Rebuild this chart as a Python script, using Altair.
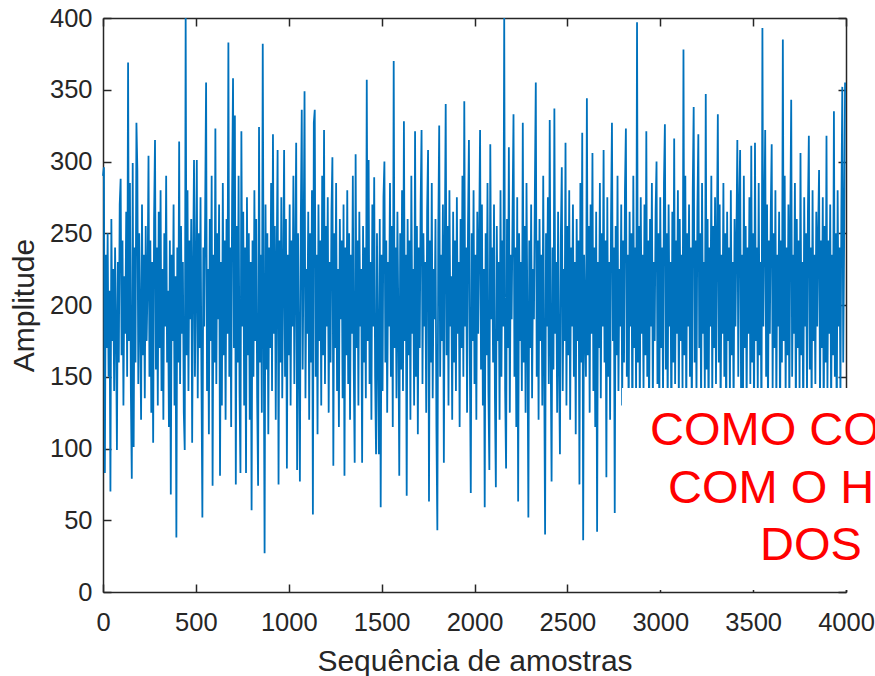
import altair as alt
import pandas as pd

# ---------------- data (one value every 5 samples) ----------------
sample_step = 5
x_ticks = [0, 500, 1000, 1500, 2000, 2500, 3000, 3500, 4000]
y_ticks = [0, 50, 100, 150, 200, 250, 300, 350, 400]

amp_0000_0995 = [
    290, 296, 83, 235, 170, 250, 150, 210, 70, 260, 175, 225, 140, 240, 185, 99, 230, 160, 270, 288,
    165, 245, 130, 220, 180, 265, 150, 369, 175, 285, 140, 79, 299, 101, 240, 160, 327, 294, 145, 250,
    190, 120, 270, 165, 235, 135, 255, 175, 215, 304, 150, 245, 125, 230, 104, 260, 315, 155, 240, 130,
    265, 170, 280, 140, 225, 120, 250, 185, 290, 160, 210, 115, 245, 68, 235, 175, 270, 130, 220, 38,
    240, 160, 314, 145, 255, 180, 230, 125, 99, 400, 165, 280, 140, 245, 190, 260, 104, 225, 301, 150,
    215, 301, 135, 250, 170, 275, 150, 52, 240, 185, 265, 355, 140, 225, 110, 260, 175, 290, 74, 235,
    160, 323, 145, 250, 190, 270, 81, 230, 130, 285, 165, 245, 120, 260, 180, 383, 150, 240, 115, 275,
    358, 170, 332, 75, 255, 160, 290, 140, 83, 321, 185, 265, 130, 240, 83, 275, 165, 250, 120, 230,
    57, 245, 150, 280, 175, 260, 135, 74, 324, 160, 235, 125, 382, 190, 27, 270, 155, 250, 110, 240,
    170, 285, 140, 319, 180, 255, 120, 230, 308, 75, 245, 160, 275, 135, 220, 308, 150, 260, 86, 235,
]
amp_1000_1995 = [
    165, 270, 130, 245, 185, 290, 145, 230, 313, 85, 250, 170, 77, 260, 336, 155, 240, 349, 135, 225,
    180, 265, 120, 250, 160, 280, 54, 327, 336, 150, 235, 110, 270, 175, 245, 130, 290, 165, 322, 145,
    255, 185, 275, 125, 230, 160, 265, 303, 88, 250, 170, 285, 140, 225, 115, 260, 190, 245, 135, 270,
    81, 240, 165, 280, 145, 250, 120, 235, 180, 290, 155, 90, 305, 170, 245, 130, 265, 185, 225, 90,
    255, 160, 240, 135, 357, 175, 301, 145, 230, 120, 270, 185, 289, 150, 96, 250, 170, 96, 260, 59,
    235, 140, 275, 300, 160, 245, 125, 230, 185, 285, 150, 255, 115, 370, 170, 240, 135, 265, 190, 81,
    250, 155, 280, 140, 328, 175, 235, 67, 260, 165, 245, 120, 290, 180, 225, 130, 321, 150, 255, 110,
    240, 170, 270, 322, 145, 250, 185, 230, 125, 265, 308, 63, 245, 160, 285, 135, 225, 190, 260, 115,
    43, 250, 325, 150, 235, 175, 270, 90, 240, 340, 165, 255, 130, 280, 185, 220, 120, 265, 160, 245,
    140, 275, 180, 230, 115, 260, 170, 290, 150, 342, 185, 240, 125, 255, 315, 160, 69, 250, 175, 280,
]
amp_2000_2995 = [
    145, 235, 120, 265, 180, 245, 322, 155, 270, 130, 225, 59, 250, 165, 285, 140, 85, 312, 190, 240,
    160, 270, 135, 73, 255, 175, 230, 120, 280, 150, 245, 185, 400, 140, 86, 260, 170, 310, 125, 235,
    190, 265, 333, 150, 240, 115, 275, 63, 250, 175, 230, 140, 327, 160, 255, 125, 285, 185, 52, 245,
    170, 270, 135, 225, 190, 280, 355, 150, 245, 120, 260, 175, 235, 130, 290, 160, 40, 250, 185, 275,
    145, 329, 170, 77, 240, 155, 337, 180, 230, 125, 265, 160, 96, 250, 296, 140, 225, 175, 313, 130,
    255, 165, 280, 120, 240, 185, 270, 150, 230, 110, 260, 175, 245, 75, 285, 160, 320, 36, 235, 190,
    150, 344, 165, 255, 125, 270, 180, 306, 140, 240, 115, 265, 42, 230, 170, 285, 135, 250, 185, 308,
    160, 245, 80, 275, 150, 230, 120, 260, 327, 175, 240, 55, 255, 165, 290, 140, 225, 185, 270, 130,
    245, 160, 280, 323, 150, 235, 120, 265, 185, 250, 105, 290, 170, 240, 135, 397, 160, 255, 125, 275,
    180, 235, 140, 270, 165, 321, 150, 245, 115, 260, 185, 285, 130, 230, 175, 265, 300, 145, 250, 120,
]
amp_3000_3995 = [
    275, 170, 240, 135, 285, 326, 155, 250, 125, 270, 185, 230, 110, 265, 160, 316, 145, 245, 180, 280,
    130, 260, 175, 235, 140, 378, 165, 290, 120, 250, 185, 270, 150, 240, 115, 280, 338, 160, 245, 135,
    265, 319, 170, 250, 125, 285, 180, 230, 140, 347, 155, 260, 115, 240, 185, 290, 135, 255, 170, 275,
    145, 245, 333, 160, 270, 120, 235, 180, 285, 150, 250, 110, 265, 175, 240, 135, 280, 165, 230, 125,
    260, 185, 245, 315, 150, 270, 308, 140, 235, 115, 290, 170, 255, 130, 240, 180, 275, 145, 311, 160,
    250, 120, 313, 175, 240, 140, 285, 165, 230, 110, 393, 185, 255, 322, 150, 270, 125, 245, 180, 265,
    312, 140, 250, 170, 280, 130, 235, 185, 265, 115, 245, 160, 385, 175, 290, 135, 240, 165, 270, 125,
    255, 343, 150, 235, 180, 285, 120, 260, 170, 245, 140, 306, 165, 230, 110, 275, 185, 250, 135, 265,
    318, 155, 240, 125, 280, 175, 235, 145, 265, 185, 250, 294, 130, 245, 170, 275, 115, 255, 160, 318,
    140, 245, 180, 270, 125, 235, 165, 335, 150, 250, 110, 280, 185, 240, 135, 265, 352, 160, 245, 355,
]

overlay_lines = ["COMO CO", "COM O H", "DOS"]
x_title = "Sequência de amostras"
y_title = "Amplitude"

amplitude = amp_0000_0995 + amp_1000_1995 + amp_2000_2995 + amp_3000_3995
samples = [i * sample_step for i in range(len(amplitude))]
df = pd.DataFrame({"amostra": samples, "amplitude": amplitude})

# ---------------- styling ----------------
FONT = "Liberation Sans"
AX = "#262626"
BLUE = "#0072BD"
RED = "#FF0000"

xscale = alt.Scale(domain=[0, 4000], nice=False, zero=False)
yscale = alt.Scale(domain=[0, 400], nice=False, zero=False)

common = dict(
    domainColor=AX, domainWidth=1.5, tickColor=AX, tickWidth=1.5,
    tickSize={"expr": "-8"}, grid=False,
    labelFont=FONT, labelFontSize=25.5, labelColor=AX,
    titleFont=FONT, titleFontSize=30, titleColor=AX, titleFontWeight="normal",
)

line = alt.Chart(df).mark_line(color=BLUE, strokeWidth=1.8, strokeJoin="miter", strokeMiterLimit=1).encode(
    x=alt.X("amostra:Q", scale=xscale,
            axis=alt.Axis(orient="bottom", values=x_ticks, format="d", title=x_title,
                          labelPadding=26, labelFlush=False, labelOverlap=False,
                          titleY=54, titleBaseline="top", **common)),
    y=alt.Y("amplitude:Q", scale=yscale,
            axis=alt.Axis(orient="left", values=y_ticks, format="d", title=y_title,
                          labelPadding=19, labelFlush=False, labelOverlap=False,
                          titleX=-64, titleBaseline="bottom", **common)),
)

frame = alt.Chart(df).mark_line(opacity=0).encode(
    x=alt.X("amostra:Q", scale=xscale,
            axis=alt.Axis(orient="top", values=x_ticks, labels=False, title="", **common)),
    y=alt.Y("amplitude:Q", scale=yscale,
            axis=alt.Axis(orient="right", values=y_ticks, labels=False, title="", **common)),
)

one = pd.DataFrame({"k": [0]})
box = alt.Chart(one).mark_rect(color="white", opacity=1).encode(
    x=alt.value(519), x2=alt.value(790), y=alt.value(370), y2=alt.value(572)
)

def label(txt, px, py):
    return alt.Chart(pd.DataFrame({"t": [txt]})).mark_text(
        font=FONT, fontSize=47, color=RED, align="left", baseline="alphabetic"
    ).encode(text="t:N", x=alt.value(px), y=alt.value(py))

t1 = label(overlay_lines[0], 547, 427)
t2 = label(overlay_lines[1], 565, 485)
t3 = label(overlay_lines[2], 657, 542)

chart = alt.layer(line, frame, box, t1, t2, t3).resolve_axis(
    x="independent", y="independent"
).properties(
    width=743, height=574,
    padding={"left": 103, "top": 18, "right": 29, "bottom": 84},
    autosize=alt.AutoSizeParams(type="none"),
    background="white",
).configure_view(strokeWidth=0)

chart.save("out.html", embed_options={"renderer": "svg", "actions": False})
